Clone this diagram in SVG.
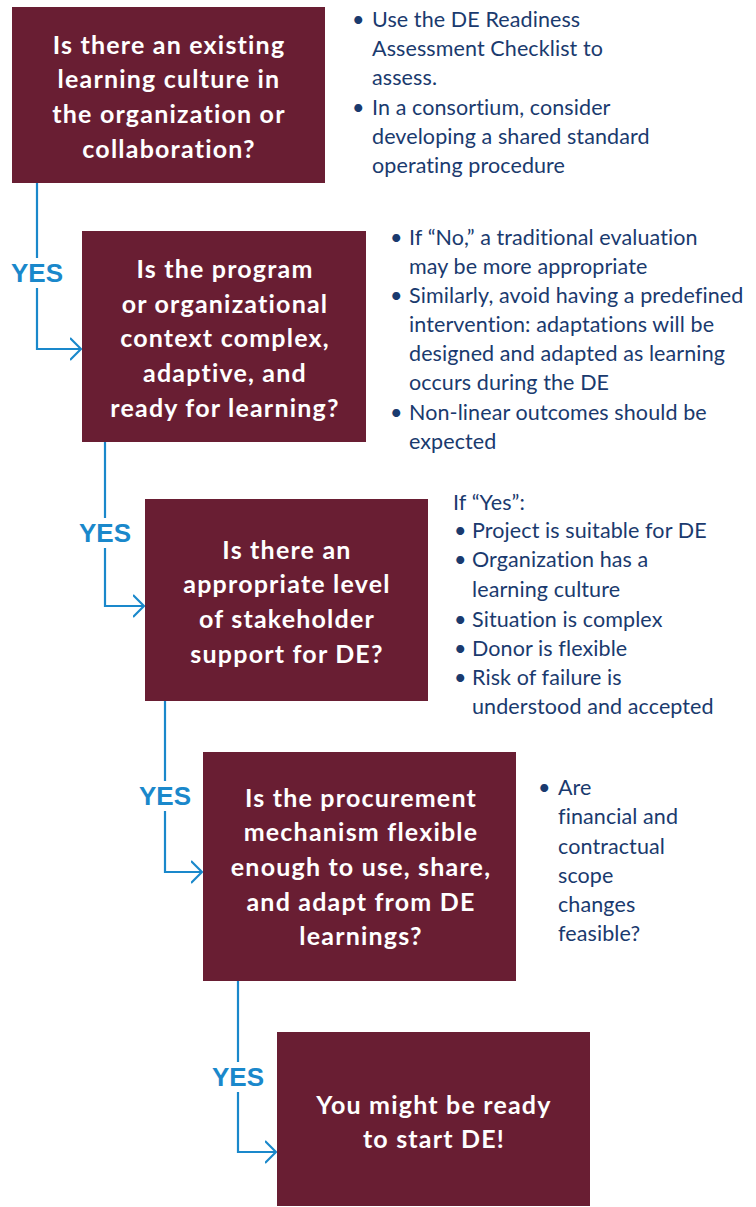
<svg xmlns="http://www.w3.org/2000/svg" width="756" height="1207" viewBox="0 0 756 1207">
<defs>
<marker id="arr" viewBox="0 0 12 24" refX="11" refY="12" markerWidth="12" markerHeight="24" markerUnits="userSpaceOnUse" orient="auto">
<path d="M0,1 L11,12 L0,23" fill="none" stroke="#1A88CB" stroke-width="2.2"/>
</marker>
<style>
.box{fill:#691E33}
.bt{font-family:Lato,"Liberation Sans",sans-serif;font-weight:bold;font-size:25px;letter-spacing:1.2px;fill:#fff;text-anchor:middle}
.nt{font-family:Lato,"Liberation Sans",sans-serif;font-size:21.5px;letter-spacing:0.1px;fill:#1A3A6E}
.yes{font-family:"Liberation Sans",Arial,sans-serif;font-weight:bold;font-size:26px;fill:#1A88CB;text-anchor:middle}
.ln{fill:none;stroke:#1A88CB;stroke-width:2.2}
</style>
</defs>
<rect width="756" height="1207" fill="#fff"/>
<g id="connectors">
<path class="ln" d="M37,183 V258 M37,288 V349 H81" marker-end="url(#arr)"/>
<text class="yes" x="37" y="282">YES</text>
<path class="ln" d="M105,442 V518 M105,548 V606 H144" marker-end="url(#arr)"/>
<text class="yes" x="105" y="542">YES</text>
<path class="ln" d="M165,701 V781 M165,811 V872 H202" marker-end="url(#arr)"/>
<text class="yes" x="165" y="805">YES</text>
<path class="ln" d="M238,981 V1062 M238,1092 V1152 H276" marker-end="url(#arr)"/>
<text class="yes" x="238" y="1086">YES</text>
</g>
<g id="n1">
<rect class="box" x="12" y="7" width="313" height="176"/>
<text class="bt"><tspan x="169" y="54">Is there an existing</tspan><tspan x="169" y="88">learning culture in</tspan><tspan x="169" y="123">the organization or</tspan><tspan x="169" y="158">collaboration?</tspan></text>
</g>
<g id="n2">
<rect class="box" x="82" y="231" width="284" height="211"/>
<text class="bt"><tspan x="225" y="278">Is the program</tspan><tspan x="225" y="313">or organizational</tspan><tspan x="225" y="347">context complex,</tspan><tspan x="225" y="382">adaptive, and</tspan><tspan x="225" y="417">ready for learning?</tspan></text>
</g>
<g id="n3">
<rect class="box" x="145" y="499" width="283" height="202"/>
<text class="bt"><tspan x="287" y="559">Is there an</tspan><tspan x="287" y="593">appropriate level</tspan><tspan x="287" y="628">of stakeholder</tspan><tspan x="287" y="663">support for DE?</tspan></text>
</g>
<g id="n4">
<rect class="box" x="203" y="752" width="313" height="229"/>
<text class="bt"><tspan x="361" y="807">Is the procurement</tspan><tspan x="361" y="841">mechanism flexible</tspan><tspan x="361" y="876">enough to use, share,</tspan><tspan x="361" y="911">and adapt from DE</tspan><tspan x="361" y="945">learnings?</tspan></text>
</g>
<g id="n5">
<rect class="box" x="277" y="1032" width="313" height="174"/>
<text class="bt"><tspan x="434" y="1114">You might be ready</tspan><tspan x="434" y="1148">to start DE!</tspan></text>
</g>
<g id="note1">
<text class="nt"><tspan x="352" y="27">•</tspan><tspan x="372" y="27">Use the DE Readiness</tspan><tspan x="372" y="56">Assessment Checklist to</tspan><tspan x="372" y="85">assess.</tspan><tspan x="352" y="115">•</tspan><tspan x="372" y="115">In a consortium, consider</tspan><tspan x="372" y="144">developing a shared standard</tspan><tspan x="372" y="173">operating procedure</tspan></text>
</g>
<g id="note2">
<text class="nt"><tspan x="390" y="245">•</tspan><tspan x="409" y="245">If “No,” a traditional evaluation</tspan><tspan x="409" y="274">may be more appropriate</tspan><tspan x="390" y="303">•</tspan><tspan x="409" y="303">Similarly, avoid having a predefined</tspan><tspan x="409" y="332">intervention: adaptations will be</tspan><tspan x="409" y="361">designed and adapted as learning</tspan><tspan x="409" y="390">occurs during the DE</tspan><tspan x="390" y="420">•</tspan><tspan x="409" y="420">Non-linear outcomes should be</tspan><tspan x="409" y="449">expected</tspan></text>
</g>
<g id="note3">
<text class="nt"><tspan x="453" y="510">If “Yes”:</tspan><tspan x="454" y="538">•</tspan><tspan x="472" y="538">Project is suitable for DE</tspan><tspan x="454" y="567">•</tspan><tspan x="472" y="567">Organization has a</tspan><tspan x="472" y="597">learning culture</tspan><tspan x="454" y="627">•</tspan><tspan x="472" y="627">Situation is complex</tspan><tspan x="454" y="656">•</tspan><tspan x="472" y="656">Donor is flexible</tspan><tspan x="454" y="685">•</tspan><tspan x="472" y="685">Risk of failure is</tspan><tspan x="472" y="714">understood and accepted</tspan></text>
</g>
<g id="note4">
<text class="nt"><tspan x="538" y="795">•</tspan><tspan x="558" y="795">Are</tspan><tspan x="558" y="824">financial and</tspan><tspan x="558" y="854">contractual</tspan><tspan x="558" y="883">scope</tspan><tspan x="558" y="912">changes</tspan><tspan x="558" y="941">feasible?</tspan></text>
</g>
</svg>
